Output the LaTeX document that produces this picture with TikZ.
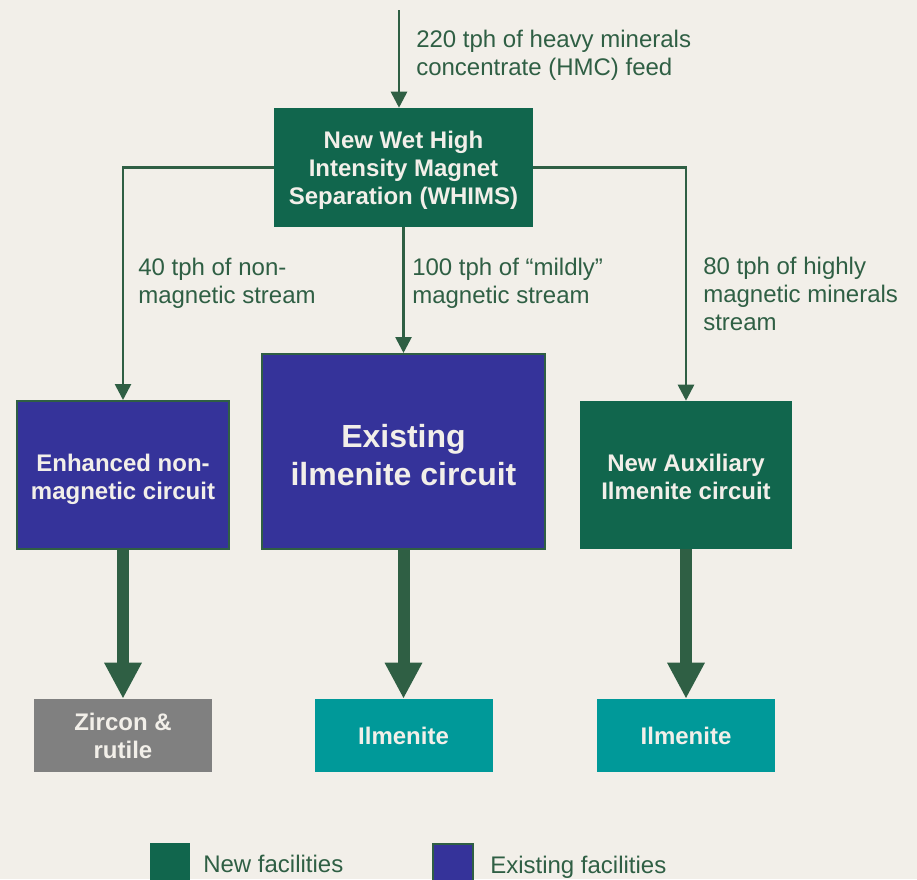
\documentclass[tikz,border=0pt]{standalone}
\usepackage{fontspec}
\setmainfont{Liberation Sans}
\usetikzlibrary{arrows.meta}
\definecolor{bg}{HTML}{F2EFE9}
\definecolor{newgreen}{HTML}{11664D}
\definecolor{linegreen}{HTML}{2F5F44}
\definecolor{oldblue}{HTML}{35339A}
\definecolor{teal}{HTML}{009999}
\definecolor{prodgray}{HTML}{808080}
\newcommand{\tpad}[1]{\rule{0pt}{#1}}
\tikzset{
  box/.style={rectangle, inner sep=0pt, text=bg, align=center,
    font=\fontsize{18pt}{21pt}\selectfont\bfseries},
  newbox/.style={box, fill=newgreen},
  oldbox/.style={box, fill=oldblue, draw=linegreen, line width=1.5pt},
  prodbox/.style={box, minimum width=133.5pt, minimum height=54.75pt},
  lbl/.style={anchor=base west, inner sep=0pt, align=left, text=linegreen,
    font=\fontsize{18pt}{21pt}\selectfont},
  thinarrow/.style={draw=linegreen, line width=2pt, -{Triangle[width=12pt,length=12pt]}},
  thickarrow/.style={draw=linegreen, line width=9pt, -{Triangle[width=26.25pt,length=27pt]}},
  legsq/.style={rectangle, inner sep=0pt, minimum width=30pt, minimum height=30pt}
}
\begin{document}
\begin{tikzpicture}[x=0.75pt,y=-0.75pt]
\fill[bg] (0,0) rectangle (917,879);
\useasboundingbox (0,0) rectangle (917,879);

% main nodes
\node[newbox, minimum width=194.25pt, minimum height=89.25pt] (whims) at (403.5,167.5)
  {\tpad{17.6pt}New Wet High\\Intensity Magnet\\Separation (WHIMS)};
\node[oldbox, minimum width=159pt, minimum height=111pt] (left) at (123,475)
  {\tpad{19.1pt}Enhanced non-\\magnetic circuit};
\node[oldbox, minimum width=212.25pt, minimum height=146.25pt,
  font=\fontsize{24pt}{28.5pt}\selectfont\bfseries] (mid) at (403.5,451.5)
  {\tpad{22pt}Existing\\ilmenite circuit};
\node[newbox, minimum width=159pt, minimum height=111pt] (right) at (686,475)
  {\tpad{16.1pt}New Auxiliary\\Ilmenite circuit};

\node[prodbox, fill=prodgray] (zr) at (123,735.5) {Zircon \&\\rutile};
\node[prodbox, fill=teal] (ilm1) at (403.5,735.5) {Ilmenite};
\node[prodbox, fill=teal] (ilm2) at (686,735.5) {Ilmenite};

% feed
\coordinate (feed) at (399,10);
\draw[thinarrow] (feed) -- (feed |- whims.north);
\node[lbl] (feedlbl) at (416,75) {220 tph of heavy minerals\\concentrate (HMC) feed};

% branches
\draw[thinarrow] (whims.west) -| (left.north);
\draw[thinarrow] (whims.south) -- (mid.north);
\draw[thinarrow] (whims.east) -| (right.north);

\node[lbl] (l1) at (138,303) {40 tph of non-\\magnetic stream};
\node[lbl] (l2) at (412,303) {100 tph of “mildly”\\magnetic stream};
\node[lbl] (l3) at (703,330) {80 tph of highly\\magnetic minerals\\stream};

% thick arrows
\draw[thickarrow] (left.south) -- (zr.north);
\draw[thickarrow] (mid.south) -- (ilm1.north);
\draw[thickarrow] (right.south) -- (ilm2.north);

% legend
\node[legsq, fill=newgreen, anchor=north west] (lg1) at (150,843) {};
\node[lbl] (lg1t) at (203,872) {New facilities};
\node[legsq, fill=oldblue, draw=linegreen, line width=1.5pt, anchor=north west] (lg2) at (432,843) {};
\node[lbl] (lg2t) at (490,873) {Existing facilities};
\end{tikzpicture}
\end{document}
